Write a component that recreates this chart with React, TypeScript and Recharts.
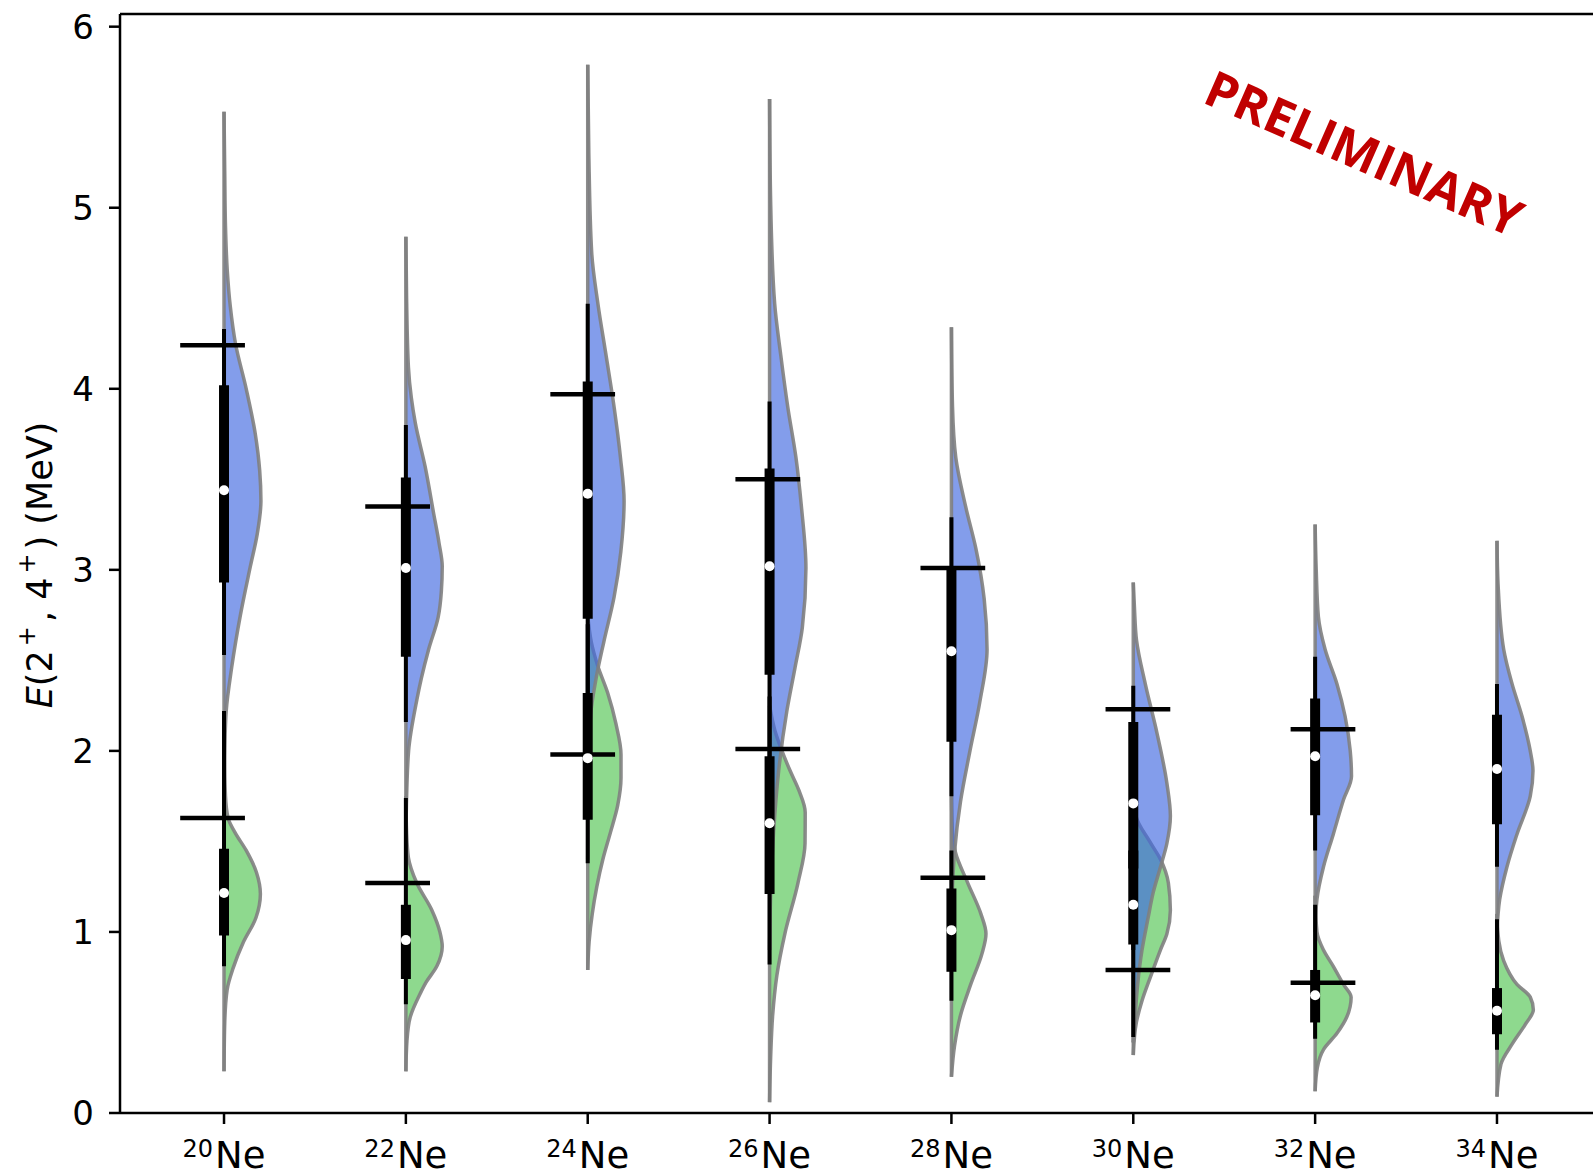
import React from 'react';
import { ComposedChart, Area, Line, XAxis, YAxis, ReferenceLine } from 'recharts';

type Pt = [number, number];

// Isotope mass numbers (x categories) and y-axis ticks
const isotopes = ['20', '22', '24', '26', '28', '30', '32', '34'];
const yTicks = [0, 1, 2, 3, 4, 5, 6];
const xTicks = [0, 1, 2, 3, 4, 5, 6, 7];
const yTop = 6.07;

// Half-violin outlines: [E (MeV), half-width in category units], 4+ state
const ne20_4: Pt[] = [[5.53, 0], [5.2, 0.004], [4.9, 0.008], [4.65, 0.018], [4.45, 0.035], [4.25, 0.063], [4.0, 0.122], [3.75, 0.172], [3.55, 0.196], [3.38, 0.203], [3.2, 0.183], [3.02, 0.145], [2.75, 0.09], [2.46, 0.042], [2.22, 0.012], [2.0, 0.004], [1.75, 0]];
const ne22_4: Pt[] = [[4.84, 0], [4.5, 0.004], [4.12, 0.014], [3.95, 0.03], [3.81, 0.052], [3.57, 0.106], [3.31, 0.153], [3.15, 0.182], [3.02, 0.2], [2.88, 0.195], [2.74, 0.178], [2.56, 0.125], [2.4, 0.085], [2.28, 0.06], [2.0, 0.015], [1.7, 0.003], [1.45, 0]];
const ne24_4: Pt[] = [[5.79, 0], [5.3, 0.006], [4.75, 0.022], [4.47, 0.056], [4.19, 0.1], [3.9, 0.145], [3.62, 0.18], [3.38, 0.2], [3.1, 0.182], [2.85, 0.145], [2.6, 0.088], [2.4, 0.046], [2.2, 0.016], [1.9, 0.004], [1.4, 0]];
const ne26_4: Pt[] = [[5.6, 0], [5.03, 0.006], [4.47, 0.028], [4.19, 0.061], [3.9, 0.1], [3.62, 0.145], [3.35, 0.175], [3.01, 0.2], [2.68, 0.18], [2.46, 0.14], [2.22, 0.095], [1.89, 0.05], [1.55, 0.022], [1.21, 0.006], [0.9, 0]];
const ne28_4: Pt[] = [[4.34, 0], [3.9, 0.006], [3.62, 0.024], [3.35, 0.078], [3.12, 0.134], [2.84, 0.18], [2.56, 0.196], [2.27, 0.156], [1.99, 0.1], [1.72, 0.05], [1.44, 0.017], [1.2, 0.004], [1.0, 0]];
const ne30_4: Pt[] = [[2.93, 0], [2.8, 0.006], [2.61, 0.018], [2.37, 0.066], [2.1, 0.13], [1.82, 0.185], [1.64, 0.204], [1.49, 0.185], [1.36, 0.15], [1.22, 0.11], [1.08, 0.082], [0.9, 0.048], [0.71, 0.024], [0.53, 0.01], [0.39, 0]];
const ne32_4: Pt[] = [[3.25, 0], [3.0, 0.006], [2.74, 0.018], [2.56, 0.055], [2.37, 0.12], [2.19, 0.165], [2.0, 0.193], [1.86, 0.2], [1.73, 0.156], [1.54, 0.1], [1.36, 0.046], [1.18, 0.01], [1.0, 0]];
const ne34_4: Pt[] = [[3.16, 0], [2.92, 0.006], [2.56, 0.037], [2.37, 0.083], [2.19, 0.138], [2.0, 0.183], [1.89, 0.198], [1.75, 0.183], [1.54, 0.11], [1.36, 0.055], [1.18, 0.015], [1.0, 0]];

// Half-violin outlines, 2+ state
const ne20_2: Pt[] = [[2.22, 0], [1.95, 0.003], [1.75, 0.008], [1.63, 0.022], [1.55, 0.06], [1.45, 0.122], [1.33, 0.178], [1.21, 0.2], [1.08, 0.176], [0.94, 0.105], [0.8, 0.05], [0.68, 0.017], [0.5, 0.004], [0.23, 0]];
const ne22_2: Pt[] = [[1.75, 0], [1.55, 0.004], [1.41, 0.014], [1.27, 0.06], [1.12, 0.143], [1.0, 0.187], [0.92, 0.2], [0.81, 0.17], [0.72, 0.11], [0.66, 0.079], [0.53, 0.024], [0.4, 0.006], [0.23, 0]];
const ne24_2: Pt[] = [[2.75, 0], [2.6, 0.02], [2.47, 0.055], [2.32, 0.11], [2.15, 0.155], [1.98, 0.183], [1.85, 0.183], [1.7, 0.165], [1.55, 0.125], [1.4, 0.083], [1.25, 0.05], [1.1, 0.025], [0.95, 0.008], [0.79, 0]];
const ne26_2: Pt[] = [[2.25, 0], [2.11, 0.03], [2.0, 0.068], [1.89, 0.113], [1.78, 0.162], [1.66, 0.196], [1.49, 0.195], [1.27, 0.156], [0.99, 0.084], [0.76, 0.04], [0.54, 0.017], [0.31, 0.006], [0.06, 0]];
const ne28_2: Pt[] = [[1.75, 0], [1.55, 0.006], [1.44, 0.022], [1.27, 0.09], [1.1, 0.162], [0.99, 0.19], [0.88, 0.168], [0.71, 0.106], [0.54, 0.05], [0.37, 0.017], [0.2, 0]];
const ne30_2: Pt[] = [[1.8, 0], [1.64, 0.015], [1.5, 0.09], [1.4, 0.15], [1.27, 0.193], [1.12, 0.204], [0.99, 0.185], [0.9, 0.149], [0.75, 0.094], [0.62, 0.048], [0.5, 0.017], [0.32, 0]];
const ne32_2: Pt[] = [[1.2, 0], [1.0, 0.01], [0.9, 0.046], [0.81, 0.1], [0.71, 0.156], [0.64, 0.198], [0.53, 0.174], [0.44, 0.12], [0.35, 0.046], [0.25, 0.012], [0.12, 0]];
const ne34_2: Pt[] = [[1.1, 0], [0.95, 0.01], [0.84, 0.037], [0.71, 0.11], [0.64, 0.183], [0.57, 0.2], [0.49, 0.156], [0.38, 0.083], [0.27, 0.022], [0.09, 0]];

const outline4 = [ne20_4, ne22_4, ne24_4, ne26_4, ne28_4, ne30_4, ne32_4, ne34_4];
const outline2 = [ne20_2, ne22_2, ne24_2, ne26_2, ne28_2, ne30_2, ne32_2, ne34_2];

// Box summaries: [lower whisker, Q1, median, Q3, upper whisker]
const box4 = [
  [2.53, 2.93, 3.44, 4.02, 4.33],
  [2.16, 2.52, 3.01, 3.51, 3.8],
  [2.0, 2.73, 3.42, 4.04, 4.47],
  [1.9, 2.42, 3.02, 3.56, 3.93],
  [1.75, 2.05, 2.55, 3.01, 3.29],
  [0.9, 1.35, 1.71, 2.16, 2.36],
  [1.45, 1.645, 1.97, 2.29, 2.52],
  [1.36, 1.595, 1.9, 2.2, 2.37],
];
const box2 = [
  [0.81, 0.98, 1.215, 1.46, 2.22],
  [0.6, 0.74, 0.955, 1.15, 1.74],
  [1.38, 1.62, 1.96, 2.32, 2.7],
  [0.82, 1.21, 1.6, 1.97, 2.3],
  [0.62, 0.78, 1.01, 1.24, 1.45],
  [0.42, 0.93, 1.15, 1.45, 1.8],
  [0.41, 0.5, 0.65, 0.79, 1.15],
  [0.35, 0.435, 0.565, 0.69, 1.07],
];

// Experimental energies (MeV); no data for 34Ne
const exp4: (number | null)[] = [4.24, 3.35, 3.97, 3.5, 3.01, 2.23, 2.12, null];
const exp2: (number | null)[] = [1.63, 1.27, 1.98, 2.01, 1.3, 0.79, 0.72, null];

const FONT = 'DejaVu Sans';
const BLUE = '#4169E1';
const GREEN = '#32B932';
const EDGE = '#808080';

const violinData = (pts: Pt[], pos: number) =>
  pts.map(([e, w]) => ({ e, span: [pos, pos + w] }));

const seg = (x0: number, e0: number, x1: number, e1: number) => [
  { x: x0, e: e0 },
  { x: x1, e: e1 },
];

// experimental marker extent around each category position
const expLeft = (i: number) => -0.063 + 0.0177 * i - 0.178;
const expRight = (i: number) => -0.063 + 0.0177 * i + 0.178;

function IsoTick(props: any) {
  const { x, y, payload } = props;
  const label = isotopes[payload.value];
  return (
    <text x={x} y={y + 44} textAnchor="middle" fontFamily={FONT} fill="#000">
      <tspan fontSize={24} dy={-11}>{label}</tspan>
      <tspan fontSize={37} dy={11} dx={2}>Ne</tspan>
    </text>
  );
}

function renderViolins(outlines: Pt[][], color: string, opacity: number, key: string) {
  return outlines.map((pts, i) => (
    <Area
      key={`${key}-${i}`}
      data={violinData(pts, i)}
      dataKey="span"
      type="monotone"
      fill={color}
      fillOpacity={opacity}
      stroke={EDGE}
      strokeOpacity={0.9}
      strokeWidth={3.5}
      dot={false}
      activeDot={false}
      isAnimationActive={false}
    />
  ));
}

function renderBoxes(boxes: number[][], key: string) {
  const out: React.ReactNode[] = [];
  boxes.forEach((b, i) => {
    out.push(
      <Line key={`${key}-w-${i}`} data={seg(i, b[0], i, b[4])} dataKey="x" stroke="#000" strokeWidth={4}
        dot={false} activeDot={false} isAnimationActive={false} />
    );
    out.push(
      <Line key={`${key}-b-${i}`} data={seg(i, b[1], i, b[3])} dataKey="x" stroke="#000" strokeWidth={10}
        dot={false} activeDot={false} isAnimationActive={false} />
    );
  });
  return out;
}

function renderMedians(boxes: number[][], key: string) {
  return boxes.map((b, i) => (
    <Line key={`${key}-m-${i}`} data={[{ x: i, e: b[2] }]} dataKey="x" stroke="none"
      dot={{ r: 5, fill: '#fff', stroke: 'none', strokeWidth: 0 }} activeDot={false} isAnimationActive={false} />
  ));
}

function renderExp(values: (number | null)[], key: string) {
  const out: React.ReactNode[] = [];
  values.forEach((v, i) => {
    if (v == null) return;
    out.push(
      <Line key={`${key}-x-${i}`} data={seg(i + expLeft(i), v, i + expRight(i), v)} dataKey="x" stroke="#000"
        strokeWidth={4.5} dot={false} activeDot={false} isAnimationActive={false} />
    );
  });
  return out;
}

export default function App() {
  return (
    <div style={{ position: 'fixed', left: 0, top: 0, width: 1593, height: 1172, overflow: 'hidden', background: '#fff' }}>
      <ComposedChart
        width={1620}
        height={1172}
        layout="vertical"
        margin={{ top: 14, right: 19, bottom: 0, left: 0 }}
      >
        <XAxis
          type="number"
          domain={[-0.572, 7.572]}
          ticks={xTicks}
          interval={0}
          allowDataOverflow
          height={59}
          tickSize={11}
          tickMargin={0}
          axisLine={{ stroke: '#000', strokeWidth: 2.5 }}
          tickLine={{ stroke: '#000', strokeWidth: 2.5 }}
          tick={<IsoTick />}
        />
        <YAxis
          type="number"
          dataKey="e"
          domain={[0, yTop]}
          ticks={yTicks}
          interval={0}
          allowDataOverflow
          reversed
          width={120}
          tickSize={11}
          tickMargin={15}
          axisLine={{ stroke: '#000', strokeWidth: 2.5 }}
          tickLine={{ stroke: '#000', strokeWidth: 2.5 }}
          tick={{ fill: '#000', fontSize: 34, fontFamily: FONT }}
        />
        <ReferenceLine y={yTop} stroke="#000" strokeWidth={2.5} />
        {renderViolins(outline2, GREEN, 0.55, 'g')}
        {renderViolins(outline4, BLUE, 0.65, 'b')}
        {renderBoxes(box2, 'g')}
        {renderBoxes(box4, 'b')}
        {renderMedians(box2, 'g')}
        {renderMedians(box4, 'b')}
        {renderExp(exp2, 'g')}
        {renderExp(exp4, 'b')}
      </ComposedChart>
      <svg width={1593} height={1172} style={{ position: 'absolute', left: 0, top: 0, pointerEvents: 'none' }}>
        <text transform="translate(52,565) rotate(-90)" textAnchor="middle" fontFamily={FONT} fontSize={35} fill="#000">
          <tspan fontStyle="italic">E</tspan>
          <tspan>(2</tspan>
          <tspan fontSize={24} dy={-17} dx={4}>+</tspan>
          <tspan dy={17} dx={4}>, 4</tspan>
          <tspan fontSize={24} dy={-17} dx={4}>+</tspan>
          <tspan dy={17} dx={4}>) (MeV)</tspan>
        </text>
        <text transform="translate(1357,170) rotate(23.6)" textAnchor="middle" fontFamily="Open Sans" fontWeight={700}
          fontSize={50} fill="#C00000">
          PRELIMINARY
        </text>
      </svg>
    </div>
  );
}
